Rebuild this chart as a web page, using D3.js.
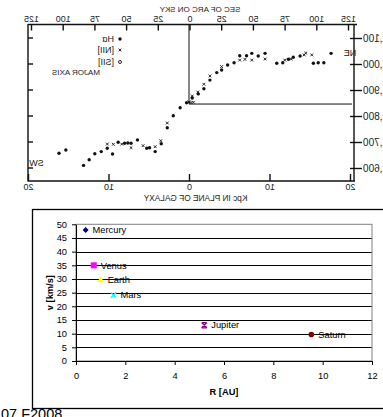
<!DOCTYPE html>
<html>
<head>
<meta charset="utf-8">
<script src="https://cdn.jsdelivr.net/npm/d3@7"></script>
<style>
  html, body { margin: 0; padding: 0; background: #fff; }
  svg { display: block; font-family: "Liberation Sans", Arial, sans-serif; }
</style>
</head>
<body>
<div id="chart"></div>
<script>
// ---- Scanned rotation curve (shown mirrored, as in the reference) ----
// Signed distance along major axis (kpc, SW negative) and velocity (km/s)
const haKpc = [-16.15, -15.3, -13.1, -12.4, -11.7, -10.9, -10.15, -9.5, -8.8, -8.0, -7.6, -7.2, -6.4, -5.25, -4.9, -4.2, -3.45, -2.7, -1.95, -1.1, -0.3, 0.4, 1.15, 1.85, 2.6, 3.45, 4.05, 4.8, 5.6, 6.3, 7.15, 7.8, 8.6, 9.45, 10.9, 11.65, 12.35, 12.95, 13.8, 15.45, 16.05, 16.75, 17.65];
const haVel = [1657, 1669, 1610, 1632, 1655, 1663, 1676, 1654, 1699, 1695, 1696, 1695, 1708, 1676, 1678, 1663, 1693, 1755, 1801, 1832, 1851, 1869, 1885, 1905, 1938, 1967, 1977, 1996, 2005, 2032, 2032, 2041, 2031, 2041, 2003, 2005, 2018, 2026, 2031, 2003, 2005, 2005, 2041];
const niiKpc = [-10.15, -9.4, -8.35, -7.2, -5.7, -4.2, -3.5, -2.7, 0.0, 0.25, 0.55, 0.4, 1.1, 1.85, 2.6, 4.05, 6.3, 6.95, 7.8, 9.45, 11.9, 12.7, 14.3, 14.5, 15.25];
const niiVel = [1692, 1691, 1692, 1678, 1686, 1682, 1705, 1773, 1854, 1852, 1853, 1877, 1892, 1922, 1954, 1990, 2015, 2018, 2015, 2019, 2015, 2019, 2035, 2042, 2035];
const arcTicks = [-125, -100, -75, -50, -25, 0, 25, 50, 75, 100, 125];
const kpcTicks = [-20, -10, 0, 10, 20];
const velTicks = [1600, 1700, 1800, 1900, 2000, 2100];
const systemicVel = 1846;
const legendLabels = ["H\u03b1", "[NII]", "[SII]"];

// ---- Planet chart ----
const planetNames = ["Mercury", "Venus", "Earth", "Mars", "Jupiter", "Saturn"];
const planetR = [0.39, 0.72, 1.0, 1.52, 5.2, 9.54];
const planetV = [47.9, 35.0, 29.8, 24.1, 13.1, 9.7];
const planetColors = ["#000080", "#ff00ff", "#ffff00", "#00ffff", "#800080", "#800000"];
const rTicks = [0, 2, 4, 6, 8, 10, 12];
const vTicks = [0, 5, 10, 15, 20, 25, 30, 35, 40, 45, 50];

const width = 383, height = 417;
const svg = d3.select("#chart").append("svg")
  .attr("width", width).attr("height", height)
  .attr("viewBox", [0, 0, width, height]);
svg.append("rect").attr("width", width).attr("height", height).attr("fill", "#fff");

// mirrored text helper
const mirror = (g, x, y, str, anchor, size) => g.append("text")
  .attr("transform", `translate(${x},${y}) scale(-1,1)`)
  .attr("text-anchor", anchor)
  .attr("font-size", size)
  .attr("fill", "#222")
  .text(str);

// ===== top: scan =====
const scan = svg.append("g").attr("class", "scan");
const kpcX = d3.scaleLinear().domain([-20, 20]).range([28, 350]);
const arcX = d3.scaleLinear().domain([-125, 125]).range([31, 348]);
const velY = d3.scaleLinear().domain([1600, 2100]).range([168, 38]);
const ink = "#111";

// frame
scan.append("path")
  .attr("d", "M28,24.5H357M28,24V181.5M28,181H355M354,24V181.5")
  .attr("stroke", ink).attr("stroke-width", 1.4).attr("fill", "none");

// top axis (arc seconds)
scan.append("g")
  .attr("transform", "translate(0,24.5)")
  .call(d3.axisTop(arcX).tickValues(arcTicks).tickSizeInner(-6).tickSizeOuter(0).tickPadding(3).tickFormat(d => Math.abs(d)))
  .call(g => g.select(".domain").remove())
  .call(g => g.selectAll("line").attr("stroke", ink).attr("stroke-width", 1.4))
  .call(g => g.selectAll("text").attr("transform", "scale(-1,1)").attr("font-size", 9).attr("fill", "#222"));

// bottom axis (kpc)
scan.append("g")
  .attr("transform", "translate(0,181)")
  .call(d3.axisBottom(kpcX).tickValues(kpcTicks).tickSizeInner(-7).tickSizeOuter(0).tickPadding(3).tickFormat(d => Math.abs(d)))
  .call(g => g.select(".domain").remove())
  .call(g => g.selectAll("line").attr("stroke", ink).attr("stroke-width", 1.4))
  .call(g => g.selectAll("text").attr("transform", "scale(-1,1)").attr("font-size", 9).attr("fill", "#222"));

// right axis (velocity), labels mirrored and running off the edge
scan.append("g")
  .attr("transform", "translate(354,0)")
  .call(d3.axisRight(velY).tickValues(velTicks).tickSizeInner(8).tickSizeOuter(0))
  .call(g => g.select(".domain").remove())
  .call(g => g.selectAll("line").attr("x1", -4).attr("stroke", ink).attr("stroke-width", 1.4))
  .call(g => g.selectAll("text").attr("x", -9).attr("text-anchor", "end")
    .attr("transform", "scale(-1,1)").attr("font-size", 10).attr("fill", "#222"));

// left inner ticks
scan.append("g").selectAll("line").data(velTicks).join("line")
  .attr("x1", 28).attr("x2", 33)
  .attr("y1", d => velY(d)).attr("y2", d => velY(d))
  .attr("stroke", ink).attr("stroke-width", 1.4);

// systemic velocity cross
scan.append("path")
  .attr("d", `M${kpcX(0)},24.5V${velY(systemicVel)}H352`)
  .attr("stroke", ink).attr("stroke-width", 1).attr("fill", "none");

// H alpha points
scan.append("g").selectAll("circle").data(d3.range(haKpc.length)).join("circle")
  .attr("cx", i => kpcX(haKpc[i])).attr("cy", i => velY(haVel[i]))
  .attr("r", 1.7).attr("fill", ink);

// [NII] points
scan.append("g").selectAll("path").data(d3.range(niiKpc.length)).join("path")
  .attr("transform", i => `translate(${kpcX(niiKpc[i])},${velY(niiVel[i])})`)
  .attr("d", "M-1.4,-1.4L1.4,1.4M-1.4,1.4L1.4,-1.4")
  .attr("stroke", ink).attr("stroke-width", 0.9);

// legend
const legY = [39, 50, 62];
const leg = scan.append("g");
leg.append("circle").attr("cx", 120).attr("cy", legY[0]).attr("r", 1.7).attr("fill", ink);
leg.append("path").attr("transform", `translate(120,${legY[1]})`)
  .attr("d", "M-1.4,-1.4L1.4,1.4M-1.4,1.4L1.4,-1.4").attr("stroke", ink).attr("stroke-width", 0.9);
leg.append("circle").attr("cx", 120).attr("cy", legY[2]).attr("r", 1.5)
  .attr("fill", "none").attr("stroke", ink).attr("stroke-width", 0.9);
legendLabels.forEach((s, i) => mirror(leg, 114, legY[i] + 3, s, "start", 9));
mirror(scan, 100, 75, "MAJOR AXIS", "start", 8);
mirror(scan, 350, 55.5, "NE", "middle", 9);
mirror(scan, 36.5, 165.5, "SW", "middle", 9);
mirror(scan, 200, 12, "SEC OF ARC ON SKY", "middle", 8);
mirror(scan, 195.5, 200.5, "Kpc IN PLANE OF GALAXY", "middle", 8.3);

// ===== bottom: planets =====
const pl = svg.append("g").attr("class", "planets");
const rX = d3.scaleLinear().domain([0, 12]).range([76, 372]);
const vY = d3.scaleLinear().domain([0, 50]).range([361, 224.3]);
const fs = 9.3;

pl.append("rect")
  .attr("x", 32.5).attr("y", 209.5).attr("width", 370).attr("height", 199)
  .attr("fill", "#fff").attr("stroke", "#000").attr("stroke-width", 1.3);

// gridlines
pl.append("g").selectAll("line").data(vTicks.filter(d => d > 0 && d < 50)).join("line")
  .attr("x1", rX(0)).attr("x2", rX(12))
  .attr("y1", d => Math.round(vY(d)) + 0.5).attr("y2", d => Math.round(vY(d)) + 0.5)
  .attr("stroke", "#000").attr("stroke-width", 1);

// plot area border
pl.append("rect")
  .attr("x", rX(0)).attr("y", vY(50)).attr("width", rX(12) - rX(0)).attr("height", vY(0) - vY(50))
  .attr("fill", "none").attr("stroke", "#808080").attr("stroke-width", 1);

// axes
pl.append("g")
  .attr("transform", `translate(${rX(0)},0)`)
  .call(d3.axisLeft(vY).tickValues(vTicks).tickSizeInner(4).tickSizeOuter(0).tickPadding(5))
  .call(g => g.select(".domain").attr("stroke", "#000"))
  .call(g => g.selectAll("text").attr("font-size", fs).attr("font-family", "Liberation Sans, Arial").attr("fill", "#000"));
pl.append("g")
  .attr("transform", `translate(0,${vY(0)})`)
  .call(d3.axisBottom(rX).tickValues(rTicks).tickSizeInner(4).tickSizeOuter(0).tickPadding(7))
  .call(g => g.select(".domain").attr("stroke", "#000"))
  .call(g => g.selectAll("text").attr("font-size", fs).attr("font-family", "Liberation Sans, Arial").attr("fill", "#000"));

pl.append("text")
  .attr("x", (rX(0) + rX(12)) / 2).attr("y", 394.5)
  .attr("text-anchor", "middle").attr("font-size", fs).attr("font-weight", "bold")
  .text("R [AU]");
pl.append("text")
  .attr("transform", `translate(53,${(vY(0) + vY(50)) / 2}) rotate(-90)`)
  .attr("text-anchor", "middle").attr("font-size", fs).attr("font-weight", "bold")
  .text("v [km/s]");

// markers, one Excel style per series
const markers = [
  "M0,-3L3,0L0,3L-3,0Z",
  "M-3,-3H3V3H-3Z",
  "M0,-3.4L3.4,2.6H-3.4Z",
  "M-2.6,-2.6L2.6,2.6M-2.6,2.6L2.6,-2.6",
  "M-2.6,-2.6L2.6,2.6M-2.6,2.6L2.6,-2.6M-2.6,-2.6H2.6M-2.6,2.6H2.6",
  null
];
planetNames.forEach((name, i) => {
  const g = pl.append("g").attr("transform", `translate(${rX(planetR[i])},${vY(planetV[i])})`);
  if (markers[i] === null) {
    g.append("circle").attr("r", 2.8).attr("fill", planetColors[i]);
  } else if (i === 3 || i === 4) {
    g.append("path").attr("d", markers[i]).attr("fill", "none")
      .attr("stroke", planetColors[i]).attr("stroke-width", 1.3);
  } else {
    g.append("path").attr("d", markers[i]).attr("fill", planetColors[i]);
  }
  pl.append("text")
    .attr("x", rX(planetR[i]) + 7).attr("y", vY(planetV[i]))
    .attr("dy", "0.35em").attr("font-size", fs).attr("fill", "#000")
    .text(name);
});

// page footer fragment
svg.append("text")
  .attr("x", 1).attr("y", 418.5)
  .attr("font-size", 14.5).attr("fill", "#000")
  .text("07 F2008");
</script>
</body>
</html>
